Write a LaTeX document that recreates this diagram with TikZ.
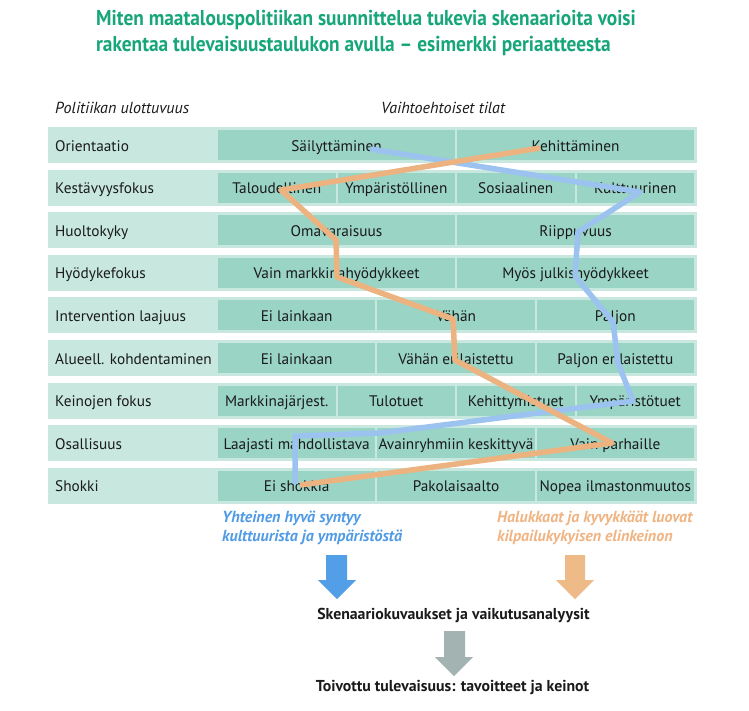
\documentclass[tikz,border=0pt]{standalone}
\usepackage{fontspec}
\setmainfont{PT Sans}
\newfontfamily\titlefont{PT Sans}[FakeStretch=0.9]
\definecolor{titlegreen}{HTML}{17A57A}
\definecolor{barlight}{HTML}{C8E8DF}
\definecolor{celldark}{HTML}{99D4C4}
\definecolor{txtc}{HTML}{1A1A1A}
\definecolor{blueline}{HTML}{9CC2F0}
\definecolor{orangeline}{HTML}{ECB381}
\definecolor{bluetext}{HTML}{509BE6}
\definecolor{orangetext}{HTML}{F0B482}
\definecolor{bluearrow}{HTML}{529FE8}
\definecolor{orangearrow}{HTML}{EDBA88}
\definecolor{grayarrow}{HTML}{A2B3B1}
\begin{document}
\begin{tikzpicture}[x=1pt,y=-1pt,
  bar/.style={fill=barlight, draw=none, minimum width=649pt, minimum height=36pt, inner sep=0pt},
  cell/.style={fill=celldark, draw=none, minimum height=30pt, inner sep=0pt, text=txtc, text height=13pt, text depth=1pt, font=\fontsize{15.3}{18}\selectfont},
  ctwo/.style={cell, minimum width=237pt},
  cthree/.style={cell, minimum width=157.33pt},
  cfour/.style={cell, minimum width=117.5pt},
  lab/.style={anchor=west, inner sep=0pt, text=txtc, text height=13pt, text depth=1pt, font=\fontsize{15.3}{18}\selectfont},
  head/.style={anchor=west, inner sep=0pt, text=txtc, font=\fontsize{16}{19}\selectfont\itshape},
  ttl/.style={anchor=west, inner sep=0pt, text=titlegreen, font=\fontsize{21.5}{24}\selectfont\titlefont\bfseries},
  path/.style={line width=5.5pt, line join=round},
  note/.style={anchor=west, align=left, inner sep=0pt, font=\fontsize{16}{19}\selectfont\itshape\bfseries},
  result/.style={inner sep=0pt, text=txtc, font=\fontsize{15.8}{18}\selectfont\bfseries}
]
\useasboundingbox (0,0) rectangle (749,710);
\fill[white] (0,0) rectangle (749,710);

% title
\node[ttl] (t1) at (96,20) {Miten maatalouspolitiikan suunnittelua tukevia skenaarioita voisi};
\node[ttl] (t2) at (96,46) {rakentaa tulevaisuustaulukon avulla – esimerkki periaatteesta};

% headers
\node[head] (h1) at (55,108) {Politiikan ulottuvuus};
\node[head] (h2) at (381,108) {Vaihtoehtoiset tilat};

% bars
\foreach \i/\y in {0/145,1/187.6,2/230.2,3/272.8,4/315.4,5/358,6/400.6,7/443.2,8/485.8}{
  \node[bar] (bar\i) at (372.5,\y) {};
}

% row 0
\node[lab] (l0) at (55,145) {Orientaatio};
\node[ctwo] (c00) at (336.5,145) {Säilyttäminen};
\node[ctwo] (c01) at (575.5,145) {Kehittäminen};
% row 1
\node[lab] (l1) at (55,187.6) {Kestävyysfokus};
\node[cfour] (c10) at (276.75,187.6) {Taloudellinen};
\node[cfour] (c11) at (396.25,187.6) {Ympäristöllinen};
\node[cfour] (c12) at (515.75,187.6) {Sosiaalinen};
\node[cfour] (c13) at (635.25,187.6) {Kulttuurinen};
% row 2
\node[lab] (l2) at (55,230.2) {Huoltokyky};
\node[ctwo] (c20) at (336.5,230.2) {Omavaraisuus};
\node[ctwo] (c21) at (575.5,230.2) {Riippuvuus};
% row 3
\node[lab] (l3) at (55,272.8) {Hyödykefokus};
\node[ctwo] (c30) at (336.5,272.8) {Vain markkinahyödykkeet};
\node[ctwo] (c31) at (575.5,272.8) {Myös julkishyödykkeet};
% row 4
\node[lab] (l4) at (55,315.4) {Intervention laajuus};
\node[cthree] (c40) at (296.67,315.4) {Ei lainkaan};
\node[cthree] (c41) at (456,315.4) {Vähän};
\node[cthree] (c42) at (615.33,315.4) {Paljon};
% row 5
\node[lab] (l5) at (55,358) {Alueell. kohdentaminen};
\node[cthree] (c50) at (296.67,358) {Ei lainkaan};
\node[cthree] (c51) at (456,358) {Vähän erilaistettu};
\node[cthree] (c52) at (615.33,358) {Paljon erilaistettu};
% row 6
\node[lab] (l6) at (55,400.6) {Keinojen fokus};
\node[cfour] (c60) at (276.75,400.6) {Markkinajärjest.};
\node[cfour] (c61) at (396.25,400.6) {Tulotuet};
\node[cfour] (c62) at (515.75,400.6) {Kehittymistuet};
\node[cfour] (c63) at (635.25,400.6) {Ympäristötuet};
% row 7
\node[lab] (l7) at (55,443.2) {Osallisuus};
\node[cthree] (c70) at (296.67,443.2) {Laajasti mahdollistava};
\node[cthree] (c71) at (456,443.2) {Avainryhmiin keskittyvä};
\node[cthree] (c72) at (615.33,443.2) {Vain parhaille};
% row 8
\node[lab] (l8) at (55,485.8) {Shokki};
\node[cthree] (c80) at (296.67,485.8) {Ei shokkia};
\node[cthree] (c81) at (456,485.8) {Pakolaisaalto};
\node[cthree] (c82) at (615.33,485.8) {Nopea ilmastonmuutos};

% scenario path points
\coordinate (b1) at (370,149);
\coordinate (b2) at (640,192);
\coordinate (b3) at (578,232);
\coordinate (b4) at (575,276);
\coordinate (b5) at (613,322);
\coordinate (b6) at (618,363);
\coordinate (b7) at (633,401);
\coordinate (b8) at (380,433);
\coordinate (b9) at (295,436);
\coordinate (b10) at (295,484);
\coordinate (o1) at (540,148);
\coordinate (o2) at (281,190);
\coordinate (o3) at (336,240);
\coordinate (o4) at (337,277);
\coordinate (o5) at (453,319);
\coordinate (o6) at (455,360);
\coordinate (o7) at (612,443);
\coordinate (o8) at (300,485);

\draw[path, blueline] (b1) -- (b2) -- (b3) -- (b4) -- (b5) -- (b6) -- (b7) -- (b8) -- (b9) -- (b10);
\draw[path, orangeline] (o1) -- (o2) -- (o3) -- (o4) -- (o5) -- (o6) -- (o7) -- (o8);

% notes
\node[note, text=bluetext] (nb) at (222,527.5) {Yhteinen hyvä syntyy\\kulttuurista ja ympäristöstä};
\node[note, text=orangetext] (no) at (497,527.5) {Halukkaat ja kyvykkäät luovat\\kilpailukykyisen elinkeinon};

% big arrows
\fill[bluearrow] (326,555) -- (347,555) -- (347,580) -- (356,580) -- (337,599) -- (318,580) -- (326,580) -- cycle;
\fill[orangearrow] (565,555) -- (585,555) -- (585,580) -- (594,580) -- (575,599) -- (556,580) -- (565,580) -- cycle;
\fill[grayarrow] (444,631) -- (465,631) -- (465,657) -- (473,657) -- (454,676) -- (435,657) -- (444,657) -- cycle;

\node[result] (r1) at (453.5,615) {Skenaariokuvaukset ja vaikutusanalyysit};
\node[result] (r2) at (452.5,688) {Toivottu tulevaisuus: tavoitteet ja keinot};
\end{tikzpicture}
\end{document}
